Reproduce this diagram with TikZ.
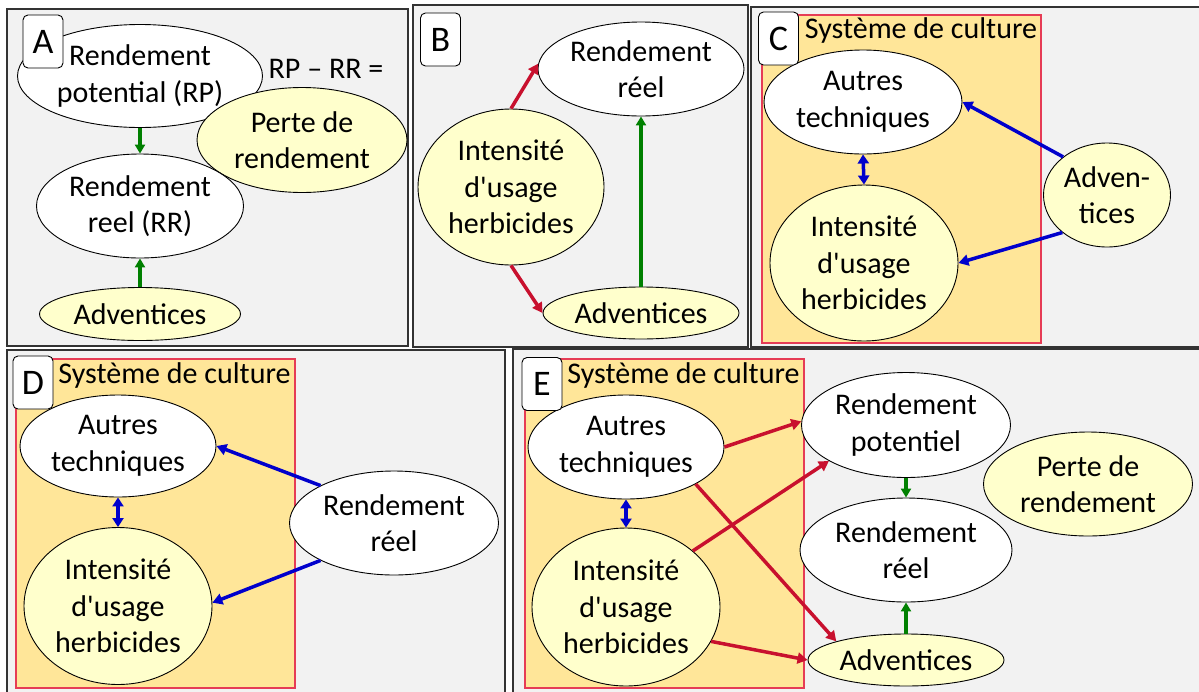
\documentclass[tikz,border=0pt]{standalone}
\usepackage{fontspec}
\setmainfont{Carlito}
\usetikzlibrary{shapes.geometric,arrows.meta}

\definecolor{panelgray}{RGB}{242,242,242}
\definecolor{sysorange}{RGB}{255,230,153}
\definecolor{sysred}{RGB}{230,60,85}
\definecolor{paleyellow}{RGB}{255,255,204}
\definecolor{arrowred}{RGB}{200,16,46}
\definecolor{arrowblue}{RGB}{0,0,204}
\definecolor{arrowgreen}{RGB}{0,128,0}

\newcommand{\usageherb}{Intensité\\d\textquotesingle usage\\herbicides}

\tikzset{
  panel/.style={draw=black!80, line width=1.6pt, fill=panelgray},
  sysbox/.style={draw=sysred, line width=1.2pt, fill=sysorange},
  letterbox/.style={rectangle, rounded corners=5pt, draw, line width=0.9pt, fill=white,
    minimum width=40pt, minimum height=53pt, inner sep=0pt, font=\fontsize{36}{40}\selectfont},
  whiteell/.style={ellipse, draw, line width=0.9pt, fill=white, inner sep=0pt, align=center},
  yellowell/.style={ellipse, draw, line width=0.9pt, fill=paleyellow, inner sep=0pt, align=center},
  redarrow/.style={draw=arrowred, line width=3.5pt, -{Triangle[length=10pt,width=11pt]}},
  bluearrow/.style={draw=arrowblue, line width=3.5pt, -{Triangle[length=10pt,width=11pt]}},
  bluedouble/.style={draw=arrowblue, line width=3.5pt, {Triangle[length=9pt,width=11pt]}-{Triangle[length=9pt,width=11pt]}},
  greenarrow/.style={draw=arrowgreen, line width=3.3pt, -{Triangle[length=9pt,width=10pt]}}
}

\begin{document}
\begin{tikzpicture}[x=1pt, y=-1pt, font=\fontsize{30}{36.5}\selectfont]
\useasboundingbox (0,0) rectangle (1199,691);
\clip (0,0) rectangle (1199,691);
%%%%%%%%%%%%%%%%%%%%%%%%%%%%%%%%%%%%%%%%%%% HELP LINES
%\draw[help lines] (0,0) grid[step=50] (1199,691);

%%%%%%%%%%%%%%%%%%%%%%%%%%%%%%%%%%%%%%%%%%% panels
\draw[panel] (7,9) rectangle (408,346);
\draw[panel] (413,5) rectangle (748,347);
\draw[panel] (751,7) rectangle (1215,347);
\draw[panel] (7,350) rectangle (505,700);
\draw[panel] (513,349) rectangle (1215,700);

\draw[sysbox] (762,15) rectangle (1041,343);
\draw[sysbox] (16,359) rectangle (295,688);
\draw[sysbox] (525,359) rectangle (804,688);

\node[anchor=base](sysC) at (921,38){Système de culture};
\node[anchor=base](sysD) at (174.5,383){Système de culture};
\node[anchor=base](sysE) at (683.5,383){Système de culture};

%%%%% panel A
\node[whiteell, minimum width=245pt, minimum height=103pt](rpA) at (140,76){Rendement\\potential (RP)};
\node[anchor=base](diffA) at (326,78){RP – RR =};
\node[yellowell, minimum width=210pt, minimum height=105pt](perteA) at (302,140){Perte de\\rendement};
\node[whiteell, minimum width=207pt, minimum height=104pt](rrA) at (140,206){Rendement\\reel (RR)};
\node[yellowell, minimum width=201pt, minimum height=53pt](advA) at (140,314){Adventices};
\node[letterbox](labA) at (43,41.5){A};

%%%%% panel B
\node[whiteell, minimum width=206pt, minimum height=94pt](rrB) at (641,69){Rendement\\réel};
\node[yellowell, minimum width=186pt, minimum height=156pt](intB) at (511,187){\usageherb};
\node[yellowell, minimum width=196pt, minimum height=52pt](advB) at (641,313){Adventices};
\node[letterbox](labB) at (440.5,39.5){B};

%%%%% panel C
\node[whiteell, minimum width=198pt, minimum height=104pt](autC) at (863,102){Autres\\techniques};
\node[yellowell, minimum width=188pt, minimum height=156pt](intC) at (864,263){\usageherb};
\node[yellowell, minimum width=127pt, minimum height=104pt](advC) at (1107,195){Adven-\\tices};
\node[letterbox](labC) at (778.5,38.5){C};

%%%%% panel D
\node[whiteell, minimum width=196pt, minimum height=102pt](autD) at (118,446){Autres\\techniques};
\node[yellowell, minimum width=188pt, minimum height=157pt](intD) at (118,606){\usageherb};
\node[whiteell, minimum width=209pt, minimum height=104pt](rrD) at (394,523){Rendement\\réel};
\node[letterbox](labD) at (33,382.5){D};

%%%%% panel E
\node[whiteell, minimum width=196pt, minimum height=104pt](autE) at (626,447){Autres\\techniques};
\node[yellowell, minimum width=188pt, minimum height=158pt](intE) at (626,607){\usageherb};
\node[whiteell, minimum width=209pt, minimum height=105pt](potE) at (906,425){Rendement\\potentiel};
\node[yellowell, minimum width=209pt, minimum height=104pt](perteE) at (1088,484){Perte de\\rendement};
\node[whiteell, minimum width=212pt, minimum height=104pt](rrE) at (906,550){Rendement\\réel};
\node[yellowell, minimum width=196pt, minimum height=52pt](advE) at (906,660){Adventices};
\node[letterbox](labE) at (542,384){E};

%%%%% edges
\draw[greenarrow] (rpA.south) -- (rrA.north);
\draw[greenarrow] (advA.north) -- (rrA.south);

\draw[redarrow] (intB.north) -- (rrB.177);
\draw[redarrow] (intB.south) -- (advB.west);
\draw[greenarrow] (advB.north) -- (rrB.south);

\draw[bluearrow] (advC.139) -- (autC.east);
\draw[bluearrow] (advC.220) -- (intC.east);
\draw[bluedouble] (autC.south) -- (intC.north);

\draw[bluearrow] (rrD.153) -- (autD.east);
\draw[bluearrow] (rrD.207) -- (intD.2);
\draw[bluedouble] (autD.south) -- (intD.north);

\draw[redarrow] (autE.east) -- (potE.178);
\draw[redarrow] (intE.40) -- (potE.205);
\draw[redarrow] (autE.-28) -- (advE.165);
\draw[redarrow] (intE.-22) -- (advE.west);
\draw[greenarrow] (potE.south) -- (rrE.north);
\draw[greenarrow] (advE.north) -- (rrE.south);
\draw[bluedouble] (autE.south) -- (intE.north);
\end{tikzpicture}
\end{document}
